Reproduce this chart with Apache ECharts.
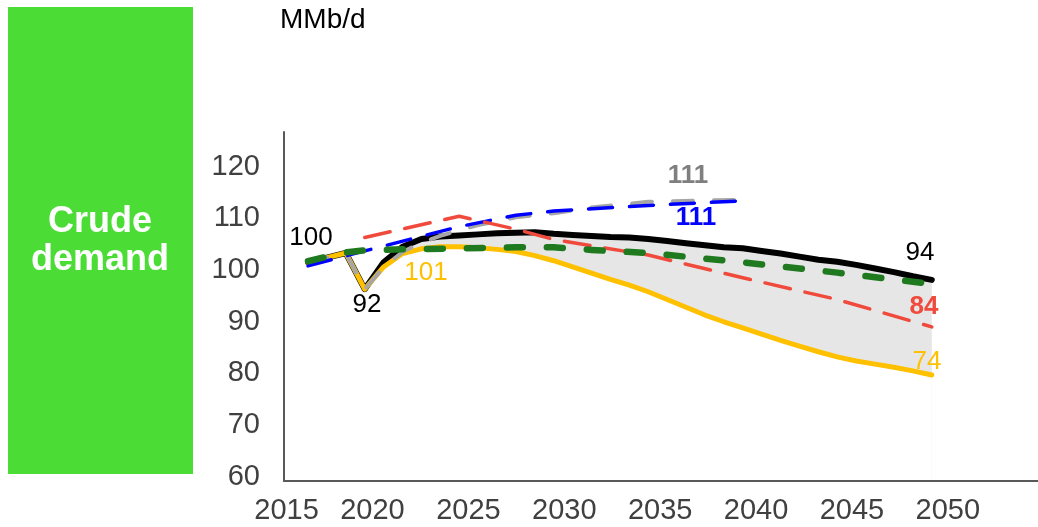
<!DOCTYPE html>
<html>
<head>
<meta charset="utf-8">
<script src="https://cdn.jsdelivr.net/npm/echarts@6/dist/echarts.min.js"></script>
<style>
  html, body { margin: 0; padding: 0; background: #fff; }
  #main { width: 1038px; height: 527px; }
</style>
</head>
<body>
<div id="main"></div>
<script>
var myChart = echarts.init(document.getElementById('main'));

// annual history + outlook used for the band (black = high, yellow = low)
var years = [2017, 2018, 2019, 2020, 2021, 2022, 2023, 2024, 2025, 2026, 2027, 2028,
    2029, 2030, 2031, 2032, 2033, 2034, 2035, 2036, 2037, 2038, 2039, 2040, 2041,
    2042, 2043, 2044, 2045, 2046, 2047, 2048, 2049, 2050];
var blackVals = [101.5, 102.4, 103.3, 96.3, 101.5, 104.5, 106.0, 106.5, 106.7, 106.9, 107.1, 107.2,
    107.3, 107.0, 106.8, 106.6, 106.4, 106.3, 106.0, 105.6, 105.2, 104.8, 104.4, 104.2, 103.7,
    103.2, 102.6, 102.0, 101.6, 101.0, 100.3, 99.6, 98.8, 98.1];
var yellowVals = [101.5, 102.4, 103.3, 96.3, 100.6, 103.2, 104.1, 104.5, 104.5, 104.3, 104.0, 103.6,
    102.8, 101.8, 100.6, 99.4, 98.2, 97.1, 95.8, 94.3, 92.8, 91.3, 90.0, 88.8, 87.6,
    86.4, 85.3, 84.2, 83.2, 82.4, 81.8, 81.2, 80.5, 79.7];

var greenYears = [2017, 2018, 2019, 2020, 2022, 2025, 2028, 2030, 2032, 2035, 2040, 2045, 2050];
var greenVals = [101.7, 102.6, 103.4, 103.8, 104.0, 104.2, 104.4, 104.4, 103.9, 103.3, 101.5, 99.5, 97.3];

var redYears = [2020, 2025, 2028, 2030, 2035, 2040, 2045, 2050];
var redVals = [106.3, 110.4, 107.9, 105.9, 102.9, 98.5, 94.3, 89.0];

var blueYears = [2017, 2020, 2025, 2028, 2030, 2035, 2040];
var blueVals = [100.8, 103.7, 108.4, 110.6, 111.4, 112.5, 113.4];

var grayYears = [2017, 2018, 2019, 2020, 2021, 2022, 2023, 2024, 2025, 2026, 2028, 2030, 2032, 2035, 2040];
var grayVals = [101.5, 102.4, 103.3, 96.3, 100.5, 103.5, 105.3, 106.6, 107.7, 108.7, 110.2, 111.0, 112.1, 113.2, 113.6];

var xTickLabels = [2015, 2020, 2025, 2030, 2035, 2040, 2045, 2050];
var yTickLabels = [60, 70, 80, 90, 100, 110, 120];

var pairs = function(xs, ys) {
    return xs.map(function(x, i) { return [x, ys[i]]; });
};

var font = 'Liberation Sans, Arial, sans-serif';

var lineSeries = function(name, data, color, width, dash, z) {
    return {
        name: name,
        type: 'line',
        data: data,
        symbol: 'none',
        smooth: false,
        z: z,
        lineStyle: {
            color: color,
            width: width,
            type: dash || 'solid',
            cap: 'round',
            join: 'round'
        }
    };
};

// area-only series: used to paint the grey band between high and low
var areaSeries = function(name, data, fill, z) {
    return {
        name: name,
        type: 'line',
        data: data,
        symbol: 'none',
        z: z,
        lineStyle: { opacity: 0, width: 0 },
        areaStyle: { color: fill, opacity: 1, origin: 'start' }
    };
};

var txt = function(x, y, s, color, size, weight) {
    return {
        type: 'text',
        x: x,
        y: y,
        z: 100,
        style: {
            text: s,
            fill: color,
            font: (weight || 'normal') + ' ' + size + 'px ' + font,
            align: 'center',
            verticalAlign: 'middle'
        }
    };
};

var option = {
    animation: false,
    backgroundColor: '#ffffff',
    grid: [
        { left: 284, right: 0, top: 132, bottom: 46 },
        { left: 276.6, right: 0, top: 132, bottom: 46 }
    ],
    xAxis: [{
        type: 'value',
        gridIndex: 0,
        min: 2015.73,
        max: 2055.62,
        z: 10,
        axisLine: { show: true, lineStyle: { color: '#595959', width: 2 } },
        axisTick: { show: false },
        axisLabel: { show: false },
        splitLine: { show: false }
    }, {
        type: 'value',
        gridIndex: 1,
        position: 'bottom',
        min: 2015,
        max: 2054.70,
        axisLine: { show: false },
        axisTick: { show: false },
        splitLine: { show: false },
        axisLabel: {
            customValues: xTickLabels,
            margin: 15,
            color: '#404040',
            fontSize: 29,
            fontFamily: font,
            formatter: function(v) {
                return v === 2015 ? '{s|' + v + '}' : '' + v;
            },
            rich: {
                s: { padding: [0, 0, 0, 20], color: '#404040', fontSize: 29, fontFamily: font }
            }
        }
    }],
    yAxis: [{
        type: 'value',
        gridIndex: 0,
        min: 59.2,
        max: 126.7,
        z: 10,
        axisLine: { show: true, lineStyle: { color: '#595959', width: 2 } },
        axisTick: { show: false },
        splitLine: { show: false },
        axisLabel: {
            customValues: yTickLabels,
            margin: 24,
            color: '#404040',
            fontSize: 29,
            fontFamily: font
        }
    }, {
        type: 'value',
        gridIndex: 1,
        show: false,
        min: 59.2,
        max: 126.7
    }],
    series: [
        areaSeries('band', pairs(years, blackVals), '#e6e6e6', 1),
        areaSeries('mask', pairs(years, yellowVals), '#ffffff', 1.5),
        lineSeries('high', pairs(years, blackVals), '#000000', 6, null, 3),
        lineSeries('low', pairs(years, yellowVals), '#ffc000', 5, null, 4),
        lineSeries('gray', pairs(grayYears, grayVals), '#a6a6a6', 4, [20, 21], 5),
        lineSeries('blue', pairs(blueYears, blueVals), '#0000ff', 3.5, [24, 17], 5),
        lineSeries('red', pairs(redYears, redVals), '#ef4a3c', 3.5, [26, 15], 6),
        lineSeries('green', pairs(greenYears, greenVals), '#1f7a1f', 6.5, [16, 24], 7)
    ],
    graphic: [
        {
            type: 'rect',
            shape: { x: 8, y: 7, width: 185, height: 467 },
            style: { fill: '#4cdc36' },
            z: 0
        },
        txt(100, 222, 'Crude', '#ffffff', 36, 'bold'),
        txt(100, 260, 'demand', '#ffffff', 36, 'bold'),
        {
            type: 'text',
            x: 280,
            y: 20,
            z: 100,
            style: {
                text: 'MMb/d',
                fill: '#000000',
                font: 'normal 28px ' + font,
                align: 'left',
                verticalAlign: 'middle'
            }
        },
        txt(311, 238, '100', '#000000', 26),
        txt(367, 305, '92', '#000000', 26),
        txt(426, 273, '101', '#ffc000', 26),
        txt(688, 176, '111', '#7f7f7f', 26, 'bold'),
        txt(696, 218, '111', '#0000ff', 26, 'bold'),
        txt(920, 253, '94', '#000000', 26),
        txt(924, 307, '84', '#ef4a3c', 26, 'bold'),
        txt(927, 362, '74', '#ffc000', 26)
    ]
};

myChart.setOption(option);
</script>
</body>
</html>
